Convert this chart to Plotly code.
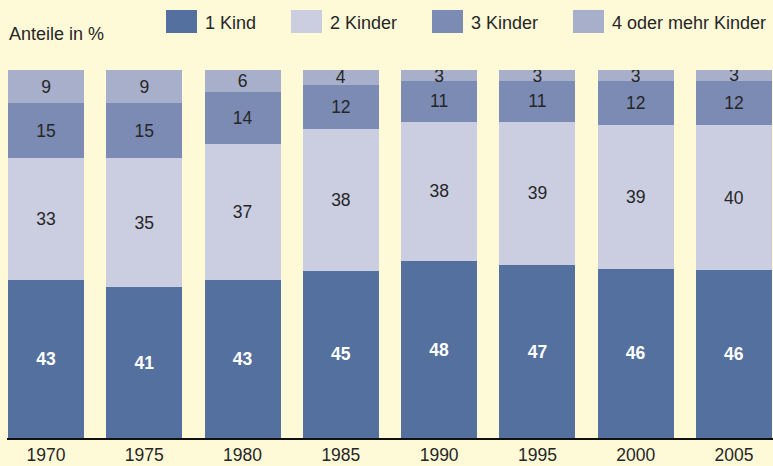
import plotly.graph_objects as go

years = ["1970", "1975", "1980", "1985", "1990", "1995", "2000", "2005"]
series_names = ["1 Kind", "2 Kinder", "3 Kinder", "4 oder mehr Kinder"]
kind1 = [43, 41, 43, 45, 48, 47, 46, 46]
kind2 = [33, 35, 37, 38, 38, 39, 39, 40]
kind3 = [15, 15, 14, 12, 11, 11, 12, 12]
kind4 = [9, 9, 6, 4, 3, 3, 3, 3]
series_values = [kind1, kind2, kind3, kind4]

colors = ["#54709E", "#CBCEE0", "#7B8BB3", "#A7AFCB"]
text_colors = ["#FFFFFF", "#262626", "#262626", "#262626"]
text_weights = ["bold", "normal", "normal", "normal"]
bg = "#FEFAD8"
FONT = "Liberation Sans, Arial, sans-serif"

fig = go.Figure()
for name, vals, col, tc, tw in zip(series_names, series_values, colors, text_colors, text_weights):
    fig.add_trace(go.Bar(
        x=list(range(len(years))), y=vals, name=name,
        marker=dict(color=col, line=dict(width=0)),
        text=[str(v) for v in vals], textposition="inside",
        insidetextanchor="middle", textangle=0,
        textfont=dict(color=tc, size=17.5, family=FONT, weight=tw),
        showlegend=False, hoverinfo="skip",
    ))

# custom legend (big swatches)
L, R, T, B = 7, 773, 70, 438
W, H = R - L, B - T
def px(x):
    return (x - L) / W
def py(y):
    return (B - y) / H

swatch_x = [166, 291, 432, 573]
shapes = []
annotations = []
for name, col, sx in zip(series_names, colors, swatch_x):
    shapes.append(dict(type="rect", xref="paper", yref="paper",
                       x0=px(sx), x1=px(sx + 31), y0=py(33), y1=py(10),
                       fillcolor=col, line=dict(width=0)))
    annotations.append(dict(xref="paper", yref="paper", x=px(sx + 37), y=py(22.5),
                            text=name, showarrow=False, xanchor="left", yanchor="middle",
                            font=dict(size=18, color="#262626", family=FONT)))
annotations.append(dict(xref="paper", yref="paper", x=px(7), y=py(33.5),
                        text="Anteile in %", showarrow=False, xanchor="left", yanchor="middle",
                        font=dict(size=18, color="#262626", family=FONT)))

fig.update_layout(
    width=773, height=466,
    margin=dict(l=L, r=773 - R, t=T, b=466 - B, pad=0),
    paper_bgcolor=bg, plot_bgcolor=bg,
    barmode="stack", barnorm="percent", bargap=0.227,
    uniformtext=dict(minsize=17.5, mode="show"),
    shapes=shapes, annotations=annotations,
    font=dict(family=FONT, color="#262626", size=17),
    xaxis=dict(range=[-0.397, 7.397], tickmode="array",
               tickvals=list(range(len(years))), ticktext=years,
               showgrid=False, zeroline=False, showline=True,
               linecolor="#111111", linewidth=2, ticks="",
               tickfont=dict(size=17.5, color="#262626", family=FONT)),
    yaxis=dict(range=[0, 100], showgrid=False, zeroline=False,
               showticklabels=False, showline=False, fixedrange=True),
)

fig.write_html("out.html", config={"displayModeBar": False},
               post_script="document.body.style.margin='0';document.body.style.padding='0';document.body.style.overflow='hidden';")
